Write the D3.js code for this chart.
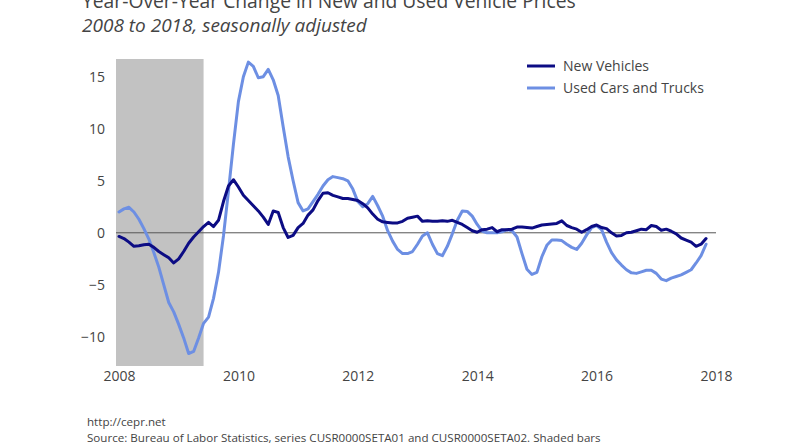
<!DOCTYPE html>
<html><head><meta charset="utf-8">
<script src="https://cdn.jsdelivr.net/npm/d3@7"></script>
<style>
html,body{margin:0;padding:0;background:#fff;}
svg{display:block;}
</style></head>
<body>
<svg id="chart" width="800" height="445"></svg>
<script>
// ---- Data (monthly, Jan 2008 .. Nov 2017) ----
const startYear = 2008;
const newVehicles = [
 -0.35,-0.55,-0.9,-1.3,-1.25,-1.15,-1.1,-1.4,-1.8,-2.1,-2.4,-2.9,
 -2.5,-1.8,-1.0,-0.4,0.1,0.6,1.0,0.6,1.2,3.0,4.5,5.1,
 4.4,3.6,3.1,2.6,2.1,1.5,0.8,2.1,1.95,0.5,-0.45,-0.25,
 0.5,0.9,1.7,2.2,3.1,3.8,3.85,3.6,3.45,3.3,3.3,3.2,
 3.1,2.8,2.4,1.8,1.3,1.05,1.0,0.95,0.95,1.1,1.4,1.5,
 1.6,1.1,1.15,1.1,1.1,1.15,1.1,1.2,1.0,0.8,0.5,0.2,
 0.05,0.3,0.35,0.5,0.1,0.3,0.3,0.35,0.55,0.55,0.5,0.45,
 0.6,0.75,0.8,0.85,0.9,1.15,0.7,0.5,0.35,0.05,0.3,0.6,
 0.75,0.5,0.4,0.0,-0.3,-0.25,0.0,0.05,0.2,0.35,0.3,0.7,
 0.6,0.25,0.35,0.15,-0.1,-0.5,-0.7,-0.9,-1.3,-1.1,-0.55
];
const usedCars = [
 2.0,2.3,2.45,2.0,1.3,0.4,-0.6,-1.9,-3.3,-5.0,-6.7,-7.6,
 -8.8,-10.1,-11.6,-11.4,-10.1,-8.7,-8.1,-6.3,-3.8,-0.3,4.0,8.5,
 12.6,15.0,16.4,16.0,14.9,15.0,15.7,14.7,13.2,10.2,7.3,5.0,
 2.9,2.1,2.3,3.0,3.7,4.5,5.1,5.4,5.3,5.2,5.0,4.2,
 3.0,2.5,2.8,3.5,2.6,1.6,0.2,-0.8,-1.6,-2.0,-2.0,-1.8,
 -1.1,-0.3,0.0,-1.1,-2.0,-2.2,-1.3,-0.1,1.2,2.1,2.05,1.6,
 0.8,0.15,0.0,0.0,0.0,0.1,0.3,0.2,-0.4,-2.0,-3.5,-4.0,
 -3.8,-2.3,-1.2,-0.7,-0.7,-0.75,-1.1,-1.4,-1.6,-1.0,-0.2,0.5,
 0.7,0.3,-0.9,-1.9,-2.6,-3.1,-3.55,-3.85,-3.9,-3.75,-3.6,-3.6,
 -3.9,-4.45,-4.6,-4.35,-4.2,-4.05,-3.8,-3.55,-2.9,-2.2,-1.1
];
const seriesNames = ["New Vehicles", "Used Cars and Trucks"];
const recessions = [[2007 + 11/12, 2009 + 5/12]];
const xTicks = [2008, 2010, 2012, 2014, 2016, 2018];
const yTicks = [-10, -5, 0, 5, 10, 15];
const title = "Year-Over-Year Change in New and Used Vehicle Prices";
const subtitle = "2008 to 2018, seasonally adjusted";
const footer1 = "http://cepr.net";
const footer2 = "Source: Bureau of Labor Statistics, series CUSR0000SETA01 and CUSR0000SETA02. Shaded bars";

// ---- Layout ----
const svg = d3.select("#chart");
const plot = {left: 116, right: 716, top: 59, bottom: 366};
const x = d3.scaleLinear().domain([2008, 2018]).range([119, 716]);
const y = d3.scaleLinear().domain([-12.8, 16.7]).range([plot.bottom, plot.top]);
const colors = ["#0c0c84", "#6d8fe3"];
const textColor = "#444";
const font = "'Open Sans', sans-serif";

svg.append("defs").append("clipPath").attr("id", "clip")
  .append("rect").attr("x", plot.left).attr("y", plot.top)
  .attr("width", plot.right - plot.left).attr("height", plot.bottom - plot.top);

// recession shading
svg.append("g").attr("clip-path", "url(#clip)")
  .selectAll("rect").data(recessions).join("rect")
  .attr("x", d => x(d[0])).attr("width", d => x(d[1]) - x(d[0]))
  .attr("y", plot.top).attr("height", plot.bottom - plot.top)
  .attr("fill", "#c2c2c2");

// zero line
svg.append("line")
  .attr("x1", plot.left).attr("x2", plot.right)
  .attr("y1", y(0)).attr("y2", y(0))
  .attr("stroke", "#555").attr("stroke-width", 1);

// axes (text only)
const yAxis = d3.axisLeft(y).tickValues(yTicks).tickSize(0).tickPadding(0)
  .tickFormat(d => d < 0 ? "\u2212" + Math.abs(d) : String(d));
const gy = svg.append("g").attr("transform", "translate(105,0)").call(yAxis);
gy.select(".domain").remove();
gy.selectAll("text").attr("fill", textColor).style("font-family", font).style("font-size", "14px");

const xAxis = d3.axisBottom(x).tickValues(xTicks).tickSize(0).tickPadding(0).tickFormat(d3.format("d"));
const gx = svg.append("g").attr("transform", "translate(0,371)").call(xAxis);
gx.select(".domain").remove();
gx.selectAll("text").attr("fill", textColor).style("font-family", font).style("font-size", "14px");

// lines
const toPts = arr => arr.map((v, i) => ({t: startYear + i / 12, v}));
const line = d3.line().x(d => x(d.t)).y(d => y(d.v));
const allSeries = [newVehicles, usedCars];
// draw used first (under), new on top
[1, 0].forEach(k => {
  svg.append("path").datum(toPts(allSeries[k]))
    .attr("d", line).attr("fill", "none")
    .attr("stroke", colors[k]).attr("stroke-width", 3)
    .attr("stroke-linejoin", "round").attr("stroke-linecap", "round");
});

// legend
const lg = svg.append("g");
seriesNames.forEach((name, i) => {
  const yy = 66 + i * 22;
  lg.append("line").attr("x1", 527).attr("x2", 555).attr("y1", yy).attr("y2", yy)
    .attr("stroke", colors[i]).attr("stroke-width", 3);
  lg.append("text").attr("x", 563).attr("y", yy).attr("dy", "0.35em")
    .attr("fill", textColor).style("font-family", font).style("font-size", "14px").text(name);
});

// titles
svg.append("text").attr("x", 82).attr("y", 8).attr("fill", textColor)
  .style("font-family", font).style("font-size", "19.3px").text(title);
svg.append("text").attr("x", 82).attr("y", 31.5).attr("fill", textColor)
  .style("font-family", font).style("font-size", "19px").style("font-style", "italic").text(subtitle);

// footer
svg.append("text").attr("x", 87).attr("y", 426).attr("fill", textColor)
  .style("font-family", font).style("font-size", "11.6px").text(footer1);
svg.append("text").attr("x", 87).attr("y", 442).attr("fill", textColor)
  .style("font-family", font).style("font-size", "11.6px").text(footer2);
</script>
</body></html>
